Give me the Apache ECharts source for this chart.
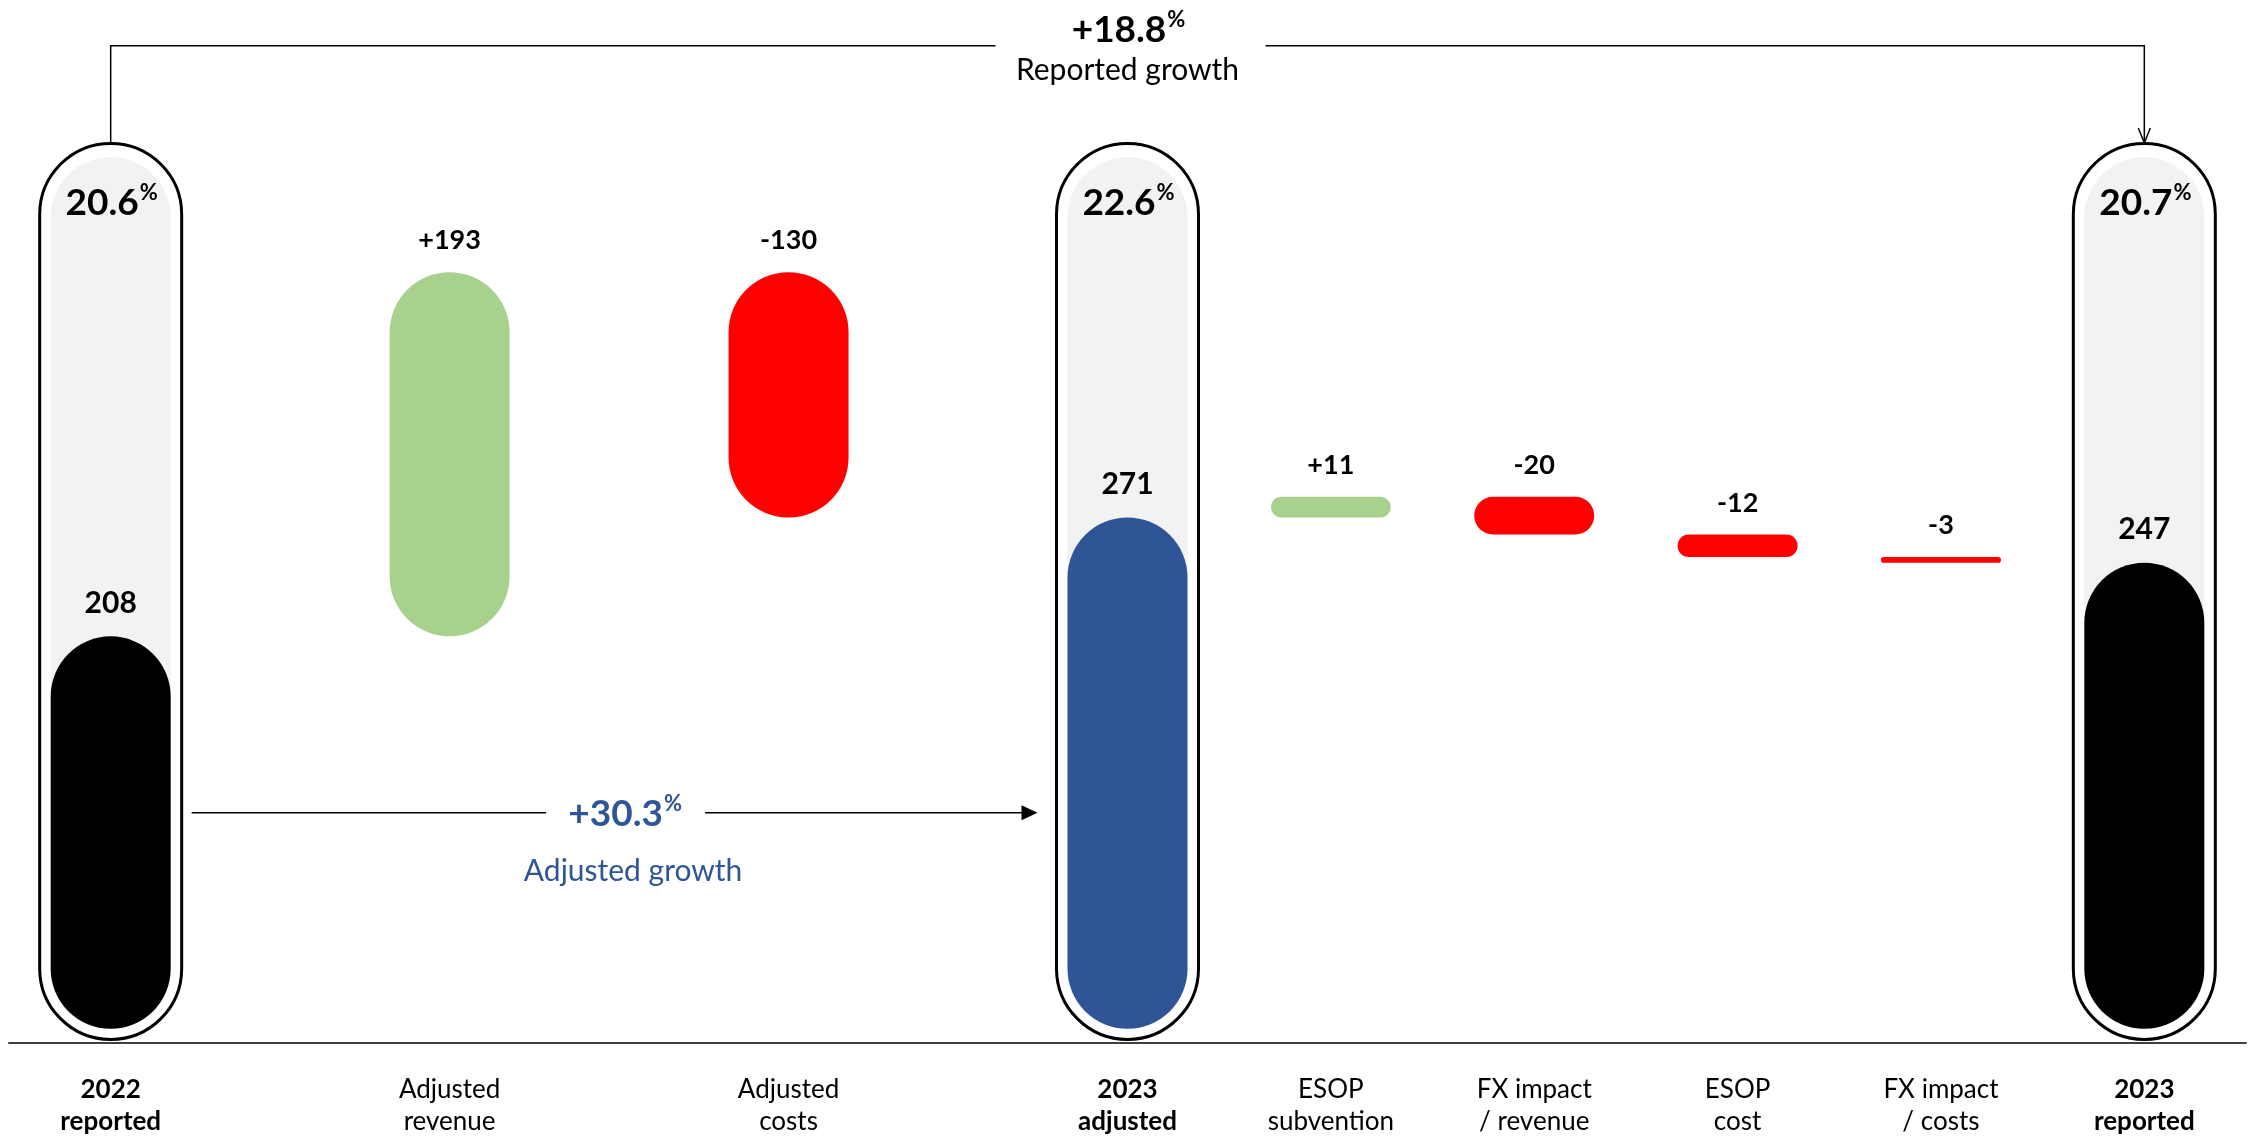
<!DOCTYPE html>
<html>
<head>
<meta charset="utf-8">
<script src="https://cdn.jsdelivr.net/npm/echarts@6/dist/echarts.min.js"></script>
<style>
html,body{margin:0;padding:0;background:#ffffff;}
#c{width:2252px;height:1141px;}
</style>
</head>
<body>
<div id="c"></div>
<script>
// ---------------- DATA ----------------
const categories = ['2022\nreported', 'Adjusted\nrevenue', 'Adjusted\ncosts', '2023\nadjusted',
  'ESOP\nsubvention', 'FX impact\n/ revenue', 'ESOP\ncost', 'FX impact\n/ costs', '2023\nreported'];
const kinds = ['total', 'delta', 'delta', 'total', 'delta', 'delta', 'delta', 'delta', 'total'];
const values = [208, 193, -130, 271, 11, -20, -12, -3, 247];
const margins = [20.6, null, null, 22.6, null, null, null, null, 20.7];   // % shown in each total capsule
const reportedGrowth = 18.8;
const adjustedGrowth = 30.3;
const reportedGrowthLabel = 'Reported growth';
const adjustedGrowthLabel = 'Adjusted growth';

// ---------------- LAYOUT / STYLE ----------------
const FONT = 'Lato, "Open Sans", sans-serif';
const SLOT_GAPS = [5, 5, 5, 3, 3, 3, 3, 3];          // spacing of the columns in axis slots
const TOTAL_COLORS = ['#000000', '#2F5597', '#000000'];
const POS_COLOR = '#A9D18E', NEG_COLOR = '#FF0000';
const FRAME_TOP = 470, FRAME_BOTTOM = -6.4, GREY_TOP = 462;
const BRACKET_LEVEL = 521, ADJ_LEVEL = 114.5;
const BLUE = '#2F5597';

const slots = [1];
SLOT_GAPS.forEach(g => slots.push(slots[slots.length - 1] + g));
const SLOT_COUNT = slots[slots.length - 1] + 2;
const slotNames = [];
for (let i = 0; i < SLOT_COUNT; i++) slotNames.push('_' + i);
slots.forEach((s, i) => { slotNames[s] = categories[i]; });
const totalNames = new Set(categories.filter((c, i) => kinds[i] === 'total'));

// waterfall geometry from values
const baseData = Array(SLOT_COUNT).fill('-');
const barData = Array(SLOT_COUNT).fill('-');
let run = 0, totalIdx = 0;
values.forEach((v, i) => {
  const s = slots[i];
  if (kinds[i] === 'total') {
    baseData[s] = 0;
    barData[s] = { value: v, txt: String(v), itemStyle: { color: TOTAL_COLORS[totalIdx++] },
      label: { fontSize: 30 } };
    run = v;
  } else {
    const st = run, en = run + v;
    baseData[s] = Math.min(st, en);
    barData[s] = { value: Math.abs(v), txt: (v > 0 ? '+' : '') + v,
      itemStyle: { color: v > 0 ? POS_COLOR : NEG_COLOR } };
    run = en;
  }
});

const frameData = [];
values.forEach((v, i) => { if (kinds[i] === 'total') frameData.push([slots[i], margins[i]]); });

const firstSlot = slots[0], lastSlot = slots[slots.length - 1];
const adjSlot = slots[kinds.indexOf('total', 1)];

function pctRich(color) {
  return {
    n: { fontFamily: FONT, fontWeight: 'bold', fontSize: 37, lineHeight: 42, fill: color, color: color },
    p: { fontFamily: FONT, fontWeight: 'bold', fontSize: 22, lineHeight: 22, verticalAlign: 'top',
         fill: color, color: color, padding: [0, 0, 0, 1] }
  };
}

const chart = echarts.init(document.getElementById('c'), null, { renderer: 'canvas' });

const option = {
  backgroundColor: '#ffffff',
  animation: false,
  grid: { left: 9, right: 6, top: 142, bottom: 98, containLabel: false, outerBoundsMode: 'none' },
  xAxis: {
    type: 'category',
    data: slotNames,
    boundaryGap: true,
    axisLine: { show: true, onZero: false, lineStyle: { color: '#404040', width: 2 } },
    axisTick: { show: false },
    splitLine: { show: false },
    axisLabel: {
      interval: 0,
      margin: 31,
      formatter: function (val) {
        if (val.charAt(0) === '_') return '';
        const tag = totalNames.has(val) ? 'b' : 'r';
        return val.split('\n').map(l => '{' + tag + '|' + l + '}').join('\n');
      },
      rich: {
        b: { fontFamily: FONT, fontWeight: 'bold', fontSize: 26, lineHeight: 32, color: '#000' },
        r: { fontFamily: FONT, fontWeight: 'normal', fontSize: 26, lineHeight: 32, color: '#000' }
      }
    }
  },
  yAxis: { type: 'value', min: -7.5, max: 470, show: false, splitLine: { show: false } },
  series: [
    {
      // capsule frames, grey tracks and margin %
      type: 'custom',
      coordinateSystem: 'cartesian2d',
      z: 1,
      silent: true,
      clip: false,
      data: frameData,
      encode: { x: 0, y: 1 },
      renderItem: function (params, api) {
        const slot = api.value(0);
        const m = api.value(1);
        const top = api.coord([slot, FRAME_TOP]);
        const bot = api.coord([slot, FRAME_BOTTOM]);
        const gTop = api.coord([slot, GREY_TOP]);
        const zero = api.coord([slot, 0]);
        const cx = top[0];
        return {
          type: 'group',
          children: [
            { type: 'rect', shape: { x: cx - 71, y: top[1] + 1.5, width: 142, height: bot[1] - top[1] - 3, r: 71 },
              style: { fill: '#ffffff', stroke: '#000000', lineWidth: 3 } },
            { type: 'rect', shape: { x: cx - 60, y: gTop[1], width: 120, height: zero[1] - gTop[1], r: 60 },
              style: { fill: '#F2F2F2' } },
            { type: 'text', x: cx + 1, y: top[1] + 61,
              style: { text: '{n|' + m.toFixed(1) + '}{p|%}', rich: pctRich('#000'),
                       align: 'center', verticalAlign: 'middle' } }
          ]
        };
      }
    },
    {
      type: 'bar', stack: 'wf', data: baseData, barWidth: 120, z: 3, silent: true,
      itemStyle: { color: 'rgba(0,0,0,0)' }
    },
    {
      type: 'bar', stack: 'wf', data: barData, barWidth: 120, z: 3,
      itemStyle: { borderRadius: 60 },
      label: {
        show: true, position: 'top', distance: 18,
        fontFamily: FONT, fontWeight: 'bold', fontSize: 27, color: '#000',
        formatter: p => (p.data && p.data.txt) ? p.data.txt : ''
      }
    },
    {
      // reported growth bracket
      type: 'custom', coordinateSystem: 'cartesian2d', z: 4, silent: true, clip: false,
      data: [[firstSlot, lastSlot, reportedGrowth]],
      encode: { x: 0 },
      renderItem: function (params, api) {
        const a = api.coord([api.value(0), FRAME_TOP]);
        const b = api.coord([api.value(1), FRAME_TOP]);
        const y = api.coord([api.value(0), BRACKET_LEVEL])[1];
        const mid = (a[0] + b[0]) / 2;
        const g = api.value(2);
        const ls = { stroke: '#000', lineWidth: 1.5, fill: null };
        return {
          type: 'group',
          children: [
            { type: 'polyline', shape: { points: [[a[0], a[1] + 1], [a[0], y], [mid - 132, y]] }, style: ls },
            { type: 'polyline', shape: { points: [[mid + 138, y], [b[0], y], [b[0], b[1] + 1]] }, style: ls },
            { type: 'polyline', shape: { points: [[b[0] - 6, b[1] - 14], [b[0], b[1] + 1], [b[0] + 6, b[1] - 14]] }, style: ls },
            { type: 'text', x: mid + 1, y: y - 16,
              style: { text: '{n|+' + g.toFixed(1) + '}{p|%}', rich: pctRich('#000'), align: 'center', verticalAlign: 'middle' } },
            { type: 'text', x: mid, y: y + 25,
              style: { text: reportedGrowthLabel, fontFamily: FONT, fontSize: 30, fill: '#000', align: 'center', verticalAlign: 'middle' } }
          ]
        };
      }
    },
    {
      // adjusted growth arrow
      type: 'custom', coordinateSystem: 'cartesian2d', z: 4, silent: true, clip: false,
      data: [[firstSlot, adjSlot, adjustedGrowth]],
      encode: { x: 0 },
      renderItem: function (params, api) {
        const a = api.coord([api.value(0), ADJ_LEVEL]);
        const b = api.coord([api.value(1), ADJ_LEVEL]);
        const y = a[1];
        const x1 = a[0] + 81, x2 = b[0] - 90;
        const tc = (a[0] + b[0]) / 2 + 6;
        const g = api.value(2);
        const ls = { stroke: '#000', lineWidth: 1.5, fill: null };
        return {
          type: 'group',
          children: [
            { type: 'line', shape: { x1: x1, y1: y, x2: tc - 79, y2: y }, style: ls },
            { type: 'line', shape: { x1: tc + 80, y1: y, x2: x2 - 14, y2: y }, style: ls },
            { type: 'polygon', shape: { points: [[x2 - 16, y - 7.5], [x2, y], [x2 - 16, y + 7.5]] }, style: { fill: '#000' } },
            { type: 'text', x: tc, y: y + 1,
              style: { text: '{n|+' + g.toFixed(1) + '}{p|%}', rich: pctRich(BLUE), align: 'center', verticalAlign: 'middle' } },
            { type: 'text', x: tc + 8, y: y + 59,
              style: { text: adjustedGrowthLabel, fontFamily: FONT, fontSize: 30, fill: BLUE, align: 'center', verticalAlign: 'middle' } }
          ]
        };
      }
    }
  ]
};
chart.setOption(option);
</script>
</body>
</html>
